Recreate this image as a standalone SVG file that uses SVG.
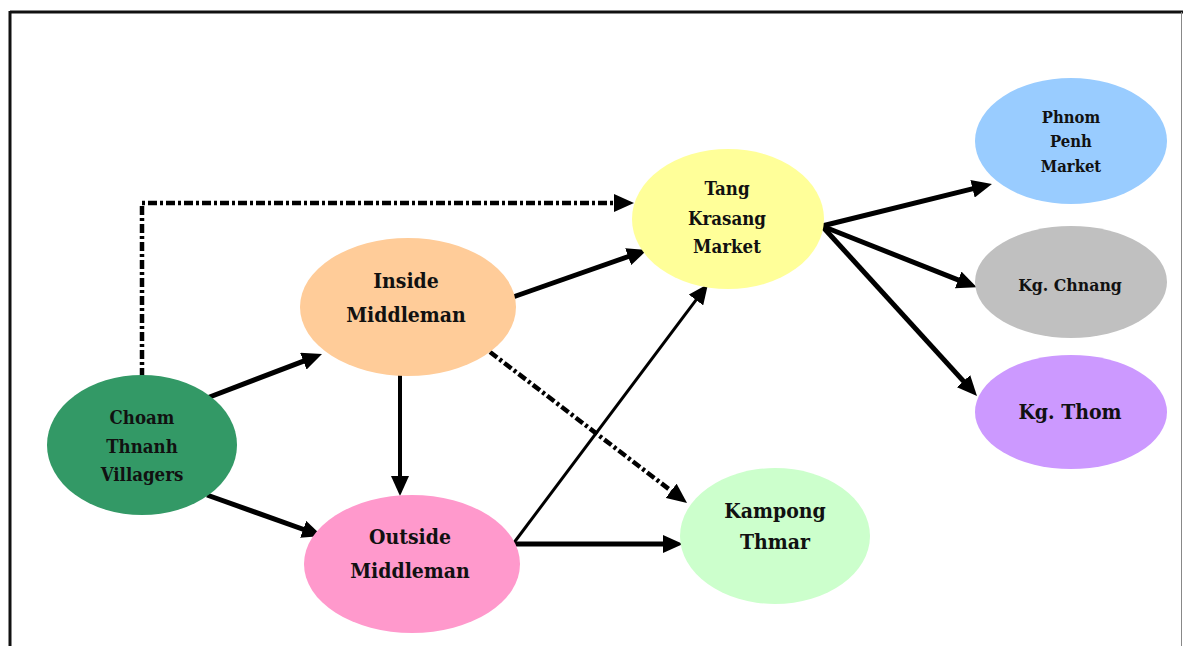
<svg xmlns="http://www.w3.org/2000/svg" width="1183" height="646" viewBox="0 0 1183 646">
<style>
.lbl{font-family:"DejaVu Serif Condensed","DejaVu Serif","Liberation Serif",serif;font-weight:bold;fill:#111;text-anchor:middle}
.s{font-size:18.5px}
.m{font-size:21px}
.xs{font-size:16.5px}
.c{fill:none;stroke:#000;stroke-width:5}
.thin{stroke-width:3}
.dd{fill:none;stroke:#000;stroke-width:4.5;stroke-dasharray:9 3 3 3}
</style>
<defs>
<marker id="ah" viewBox="0 0 20 18" refX="8" refY="9" markerWidth="20" markerHeight="18" markerUnits="userSpaceOnUse" orient="auto">
<path d="M0,0 L20,9 L0,18 z" fill="#000"/>
</marker>
</defs>
<rect width="1183" height="646" fill="#fff"/>
<g id="frame">
<line x1="10" y1="12" x2="1183" y2="12" stroke="#111" stroke-width="3"/>
<line x1="10" y1="11" x2="10" y2="646" stroke="#111" stroke-width="3"/>
<line x1="1181.5" y1="12" x2="1181.5" y2="646" stroke="#888" stroke-width="1"/>
</g>
<g id="connectors">
<path class="dd" d="M142,377 V203 H622" marker-end="url(#ah)"/>
<path class="dd" d="M490,352 L677.5,495.7" marker-end="url(#ah)"/>
<path class="c" d="M207,398 L310.8,358.3" marker-end="url(#ah)"/>
<path class="c" d="M207,495 L310.7,532" marker-end="url(#ah)"/>
<path class="c" style="stroke-width:4" d="M400,375 L400,484" marker-end="url(#ah)"/>
<path class="c" d="M513,297 L635.7,254" marker-end="url(#ah)"/>
<path class="c thin" d="M513,544 L700.8,293.6" marker-end="url(#ah)"/>
<path class="c" d="M513,544 L671,544" marker-end="url(#ah)"/>
<path class="c" d="M822,226 L980.3,186.9" marker-end="url(#ah)"/>
<path class="c" d="M822,226 L965.6,282.9" marker-end="url(#ah)"/>
<path class="c" d="M822,226 L968.9,387.1" marker-end="url(#ah)"/>
</g>
<g id="choam">
<ellipse cx="142" cy="445" rx="95" ry="70" fill="#339966"/>
<text class="lbl s" x="142" y="424">Choam</text>
<text class="lbl s" x="142" y="453">Thnanh</text>
<text class="lbl s" x="142" y="481">Villagers</text>
</g>
<g id="inside">
<ellipse cx="408" cy="307" rx="108" ry="69" fill="#FFCC99"/>
<text class="lbl m" x="406" y="288">Inside</text>
<text class="lbl m" x="406" y="322">Middleman</text>
</g>
<g id="outside">
<ellipse cx="412" cy="564" rx="108" ry="69" fill="#FF99CC"/>
<text class="lbl m" x="410" y="544">Outside</text>
<text class="lbl m" x="410" y="578">Middleman</text>
</g>
<g id="tang">
<ellipse cx="728" cy="219" rx="96" ry="70" fill="#FFFF99"/>
<text class="lbl s" x="727" y="195">Tang</text>
<text class="lbl s" x="727" y="225">Krasang</text>
<text class="lbl s" x="727" y="253">Market</text>
</g>
<g id="kampong">
<ellipse cx="775" cy="536" rx="95" ry="68" fill="#CCFFCC"/>
<text class="lbl m" x="775" y="518">Kampong</text>
<text class="lbl m" x="775" y="549">Thmar</text>
</g>
<g id="phnompenh">
<ellipse cx="1071" cy="141" rx="96" ry="63" fill="#99CCFF"/>
<text class="lbl xs" x="1071" y="123">Phnom</text>
<text class="lbl xs" x="1071" y="147">Penh</text>
<text class="lbl xs" x="1071" y="172">Market</text>
</g>
<g id="kgchnang">
<ellipse cx="1071" cy="282" rx="96" ry="56" fill="#C0C0C0"/>
<text class="lbl" style="font-size:17.5px" x="1070" y="291">Kg. Chnang</text>
</g>
<g id="kgthom">
<ellipse cx="1071" cy="412" rx="96" ry="57" fill="#CC99FF"/>
<text class="lbl m" x="1070" y="419">Kg. Thom</text>
</g>
</svg>
